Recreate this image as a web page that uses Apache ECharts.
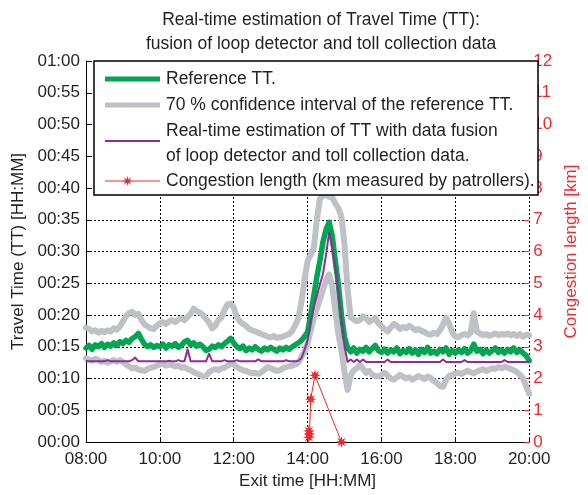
<!DOCTYPE html>
<html>
<head>
<meta charset="utf-8">
<script src="https://cdn.jsdelivr.net/npm/echarts@6/dist/echarts.min.js"></script>
<style>html,body{margin:0;padding:0;background:#fff;}#c{width:588px;height:495px;}</style>
</head>
<body>
<div id="c"></div>
<script>
// ---- data (minutes of travel time, sampled every 5 min from 08:00 to 20:00) ----
const sampleStart = '08:00';
const sampleStepMin = 5;
const xTickLabels = ['08:00','10:00','12:00','14:00','16:00','18:00','20:00'];

const referenceTT = [
 14.8,15.2,14.6,15.3,15.0,15.5,14.9,15.4,15.1,15.6,15.2,15.8,15.5,
 16.0,15.7,16.3,16.6,17.1,16.2,15.4,15.0,15.3,14.9,15.2,15.0,
 15.4,14.8,15.3,15.1,15.5,14.9,15.2,15.8,16.0,15.3,15.6,15.1,
 15.4,15.0,14.4,14.6,15.1,14.9,15.3,15.0,15.5,15.9,16.3,15.6,
 15.0,14.7,15.1,14.4,14.8,14.5,15.0,14.6,14.3,14.8,14.5,14.9,
 14.6,14.3,14.8,14.5,14.9,14.6,15.0,15.3,15.6,16.0,16.6,17.3,
 20.0,23.0,26.0,28.5,31.5,33.5,34.6,32.5,28.5,24.8,20.0,16.5,
 14.8,14.2,14.8,14.0,14.6,14.3,14.9,14.2,14.7,15.2,14.4,14.1,
 14.6,14.0,14.5,14.2,14.8,13.9,14.4,14.1,14.7,14.0,14.5,13.8,
 14.6,14.1,14.9,14.0,14.3,13.9,14.6,14.2,14.8,13.8,14.4,14.0,
 14.5,14.1,14.7,14.0,14.4,15.4,14.3,14.6,13.9,14.5,14.0,14.4,
 14.8,14.1,14.5,14.0,14.6,14.2,14.8,14.1,14.5,14.0,13.6,12.8
];
const ciUpper = [
 18.0,17.8,17.4,17.6,17.2,17.5,17.3,17.6,17.4,17.9,17.7,18.2,19.0,
 19.8,20.3,20.5,20.0,20.2,19.2,18.5,18.2,17.9,17.8,18.3,18.7,
 18.9,18.6,19.0,19.2,18.9,19.3,19.5,19.2,19.7,20.2,21.0,20.6,
 20.4,20.0,19.4,18.8,17.9,18.3,19.2,19.6,20.8,21.7,21.8,21.2,
 19.7,19.0,18.6,18.3,17.8,17.6,17.4,17.2,17.0,16.8,16.6,16.5,
 16.7,16.4,16.5,16.6,16.8,17.0,17.5,18.4,19.5,22.0,25.5,28.5,
 29.5,30.5,35.0,38.3,38.8,39.0,38.6,38.5,37.6,36.8,35.5,31.0,
 24.0,19.6,19.3,19.0,19.2,19.8,19.5,18.9,19.2,19.5,18.7,18.2,
 17.8,17.4,18.0,18.6,18.3,17.8,18.1,17.9,18.3,18.0,17.6,17.8,
 17.5,17.3,17.0,16.9,17.2,17.0,17.6,18.5,19.6,18.6,17.3,16.6,
 16.5,16.8,17.0,16.8,17.2,20.3,17.4,17.1,16.8,17.0,16.7,16.9,
 17.1,16.8,17.0,16.9,17.1,16.8,17.0,16.7,17.0,16.6,16.9,16.8
];
const ciLower = [
 13.2,13.0,12.8,13.1,12.9,12.6,12.8,12.5,12.7,12.9,12.6,12.9,12.6,
 12.2,11.9,11.6,11.7,11.4,11.3,11.2,11.5,11.7,11.8,12.0,12.2,
 12.3,12.0,12.2,12.1,11.9,12.0,11.7,11.8,11.5,11.3,11.0,10.8,
 10.6,10.3,10.4,11.0,11.3,11.5,11.3,11.6,11.7,12.0,12.3,12.2,
 11.8,11.5,11.3,11.2,11.0,10.8,10.9,10.7,11.0,11.4,11.8,11.6,
 11.4,11.2,11.3,11.6,11.8,11.9,12.0,12.2,12.5,13.4,14.2,15.5,
 17.5,19.5,21.0,22.5,24.0,25.5,26.4,24.5,20.7,17.0,14.4,11.0,
 8.2,10.5,11.3,11.6,12.1,11.5,10.9,11.2,10.6,10.4,10.3,10.6,
 10.9,10.5,10.0,9.8,10.2,10.6,10.3,10.0,10.2,9.8,10.1,10.4,
 10.2,9.9,10.3,10.1,9.6,9.3,8.8,8.7,9.8,10.4,10.6,10.8,
 10.9,10.7,11.0,11.2,11.0,10.8,11.1,11.3,11.5,11.2,11.4,11.6,
 11.5,11.8,11.6,11.9,11.7,11.5,11.3,11.0,10.6,10.0,8.8,7.6
];
const fusionTT = [
 12.8,12.7,12.7,12.7,12.7,12.7,12.7,12.9,12.7,12.7,12.7,12.7,12.7,
 12.7,12.7,12.9,13.3,12.7,12.7,12.7,12.7,12.7,12.7,12.7,12.7,
 12.7,12.7,12.8,12.7,12.7,12.9,12.7,12.7,14.6,12.7,12.7,12.7,
 12.7,12.7,12.7,13.9,12.7,12.7,12.7,12.7,12.9,12.7,12.7,12.7,
 12.9,12.7,12.7,12.7,12.7,12.7,12.7,13.0,12.7,12.7,12.7,12.7,
 12.7,12.7,12.7,12.7,12.9,12.7,12.7,12.7,12.8,13.2,14.5,16.0,
 19.0,21.3,23.0,24.8,26.5,29.5,33.0,30.5,27.5,23.5,19.5,15.0,
 12.6,13.0,12.6,13.0,12.6,13.0,12.6,12.6,12.6,12.6,12.6,12.6,
 12.6,13.0,12.6,12.6,12.6,12.6,12.6,12.6,12.6,12.6,12.6,12.6,
 12.6,12.6,12.6,12.6,12.6,12.6,12.6,13.0,12.6,12.6,12.6,12.6,
 12.6,12.6,12.9,12.6,12.6,12.6,12.6,12.6,12.6,12.6,12.6,12.6,
 12.6,12.6,12.6,12.9,12.6,12.6,12.6,12.6,12.6,12.6,12.6,12.6
];
const congestionTimes = ['14:02','14:02','14:03','14:05','14:12','14:55'];
const congestionKm = [0.15,0.35,0.25,1.35,2.1,0];

const legendLabels = [
  'Reference TT.',
  '70 % confidence interval of the reference TT.',
  'Real-time estimation of TT with data fusion\nof loop detector and toll collection data.',
  'Congestion length (km measured by patrollers).'
];
const titleLines = ['Real-time estimation of Travel Time (TT):','fusion of loop detector and toll collection data'];

// ---- helpers ----
function toMin(s){const p=s.split(':');return +p[0]*60 + +p[1];}
function pad(n){return (n<10?'0':'')+n;}
function fmtHM(v){return pad(Math.floor(v/60))+':'+pad(Math.round(v%60));}
const t0 = toMin(sampleStart);
function pairs(arr){return arr.map((v,i)=>[t0+i*sampleStepMin, v]);}

const C_GREEN='#00a651', C_GRAY='#bec1c6', C_PURPLE='#8b2f97', C_RED='#ee2a2f', C_TXT='#231f20';
const STAR='path://M0,-10 L1.6,-3.8 L7.1,-7.1 L3.8,-1.6 L10,0 L3.8,1.6 L7.1,7.1 L1.6,3.8 L0,10 L-1.6,3.8 L-7.1,7.1 L-3.8,1.6 L-10,0 L-3.8,-1.6 L-7.1,-7.1 L-1.6,-3.8 Z';
const FONT='Liberation Sans, Arial, sans-serif';
const FS=17, LFS=17.5, TFS=17.5;

// star polygon for legend icon
function starPoints(cx, cy, R, r){
  const pts=[];
  for(let k=0;k<16;k++){
    const a = -Math.PI/2 + k*Math.PI/8;
    const rad = (k%2===0)?R:r;
    pts.push([cx+rad*Math.cos(a), cy+rad*Math.sin(a)]);
  }
  return pts;
}

const chart = echarts.init(document.getElementById('c'), null, {renderer:'canvas'});

// legend drawn as graphic
const LX=94, LY=61, LW=444, LH=134, SX1=105, SX2=160, TX=166;
const legendGraphic = [
  {type:'rect', shape:{x:LX,y:LY,width:LW,height:LH}, style:{fill:'#fff',stroke:'#000',lineWidth:1.5}, z:100},
  {type:'line', shape:{x1:SX1,y1:79,x2:SX2,y2:79}, style:{stroke:C_GREEN,lineWidth:5}, z:101},
  {type:'text', x:TX, y:79, style:{text:legendLabels[0], fill:C_TXT, font:LFS+'px '+FONT, textVerticalAlign:'middle'}, z:101},
  {type:'line', shape:{x1:SX1,y1:105,x2:SX2,y2:105}, style:{stroke:C_GRAY,lineWidth:5}, z:101},
  {type:'text', x:TX, y:105, style:{text:legendLabels[1], fill:C_TXT, font:LFS+'px '+FONT, textVerticalAlign:'middle'}, z:101},
  {type:'line', shape:{x1:SX1,y1:141,x2:SX2,y2:141}, style:{stroke:C_PURPLE,lineWidth:2}, z:101},
  {type:'text', x:TX, y:119, style:{text:legendLabels[2], fill:C_TXT, font:LFS+'px '+FONT, lineHeight:25, textVerticalAlign:'top'}, z:101},
  {type:'line', shape:{x1:SX1,y1:181,x2:SX2,y2:181}, style:{stroke:C_RED,lineWidth:1}, z:101},
  {type:'polygon', shape:{points:starPoints(127.5,181,5.5,2)}, style:{fill:C_RED}, z:101},
  {type:'text', x:TX, y:181, style:{text:legendLabels[3], fill:C_TXT, font:LFS+'px '+FONT, textVerticalAlign:'middle'}, z:101}
];

const option = {
  backgroundColor:'#fff',
  animation:false,
  textStyle:{fontFamily:FONT},
  title:{
    text: titleLines.join('\n'),
    left: 316, top: 3, textAlign:'center',
    textStyle:{fontSize:TFS, fontWeight:'normal', color:C_TXT, lineHeight:24, fontFamily:FONT}
  },
  grid:{left:86, right:41, top:61, bottom:49, containLabel:false},
  xAxis:{
    type:'value', min:toMin(xTickLabels[0]), max:toMin(xTickLabels[xTickLabels.length-1]), interval:120,
    name:'Exit time [HH:MM]', nameLocation:'middle', nameGap:31,
    nameTextStyle:{fontSize:FS, color:C_TXT, fontFamily:FONT},
    axisLine:{show:true, lineStyle:{color:'#000', width:1}},
    axisTick:{show:true, inside:true, length:5, lineStyle:{color:'#000'}},
    axisLabel:{formatter:v=>fmtHM(v), fontSize:FS, color:C_TXT, margin:9, fontFamily:FONT},
    splitLine:{show:true, lineStyle:{color:'#000', type:[2,2], width:1}}
  },
  yAxis:[{
    type:'value', min:0, max:60, interval:5, position:'left',
    name:'Travel Time (TT) [HH:MM]', nameLocation:'middle', nameGap:58, nameRotate:90,
    nameTextStyle:{fontSize:FS, color:C_TXT, fontFamily:FONT},
    axisLine:{show:true, lineStyle:{color:'#000', width:1}},
    axisTick:{show:true, inside:true, length:5, lineStyle:{color:'#000'}},
    axisLabel:{formatter:v=> v>=60 ? '01:00' : '00:'+pad(v), fontSize:FS, color:C_TXT, margin:6, fontFamily:FONT},
    splitLine:{show:true, lineStyle:{color:'#000', type:[2,2], width:1}}
  },{
    type:'value', min:0, max:12, interval:1, position:'right',
    name:'Congestion length [km]', nameLocation:'middle', nameGap:23, nameRotate:90,
    nameTextStyle:{fontSize:FS, color:C_RED, fontFamily:FONT},
    axisLine:{show:false},
    axisTick:{show:true, inside:true, length:5, lineStyle:{color:C_RED}},
    axisLabel:{fontSize:FS, color:C_RED, margin:4, fontFamily:FONT},
    splitLine:{show:false}
  }],
  series:[
    {type:'line', name:'CI upper', data:pairs(ciUpper), showSymbol:false, symbol:'none',
     lineStyle:{color:C_GRAY, width:6, join:'round', cap:'round'}, z:2},
    {type:'line', name:'CI lower', data:pairs(ciLower), showSymbol:false, symbol:'none',
     lineStyle:{color:C_GRAY, width:6, join:'round', cap:'round'}, z:2},
    {type:'line', name:'Reference TT', data:pairs(referenceTT), showSymbol:false, symbol:'none',
     lineStyle:{color:C_GREEN, width:5.5, join:'round', cap:'round'}, z:3},
    {type:'line', name:'Fusion TT', data:pairs(fusionTT), showSymbol:false, symbol:'none',
     lineStyle:{color:C_PURPLE, width:2, join:'round'}, z:4},
    {type:'line', name:'Congestion', yAxisIndex:1,
     data:congestionTimes.map((t,i)=>[toMin(t), congestionKm[i]]),
     symbol:STAR, symbolSize:12, showSymbol:true, clip:false,
     itemStyle:{color:C_RED}, lineStyle:{color:C_RED, width:1}, z:5}
  ],
  graphic: legendGraphic
};
chart.setOption(option);
</script>
</body>
</html>
